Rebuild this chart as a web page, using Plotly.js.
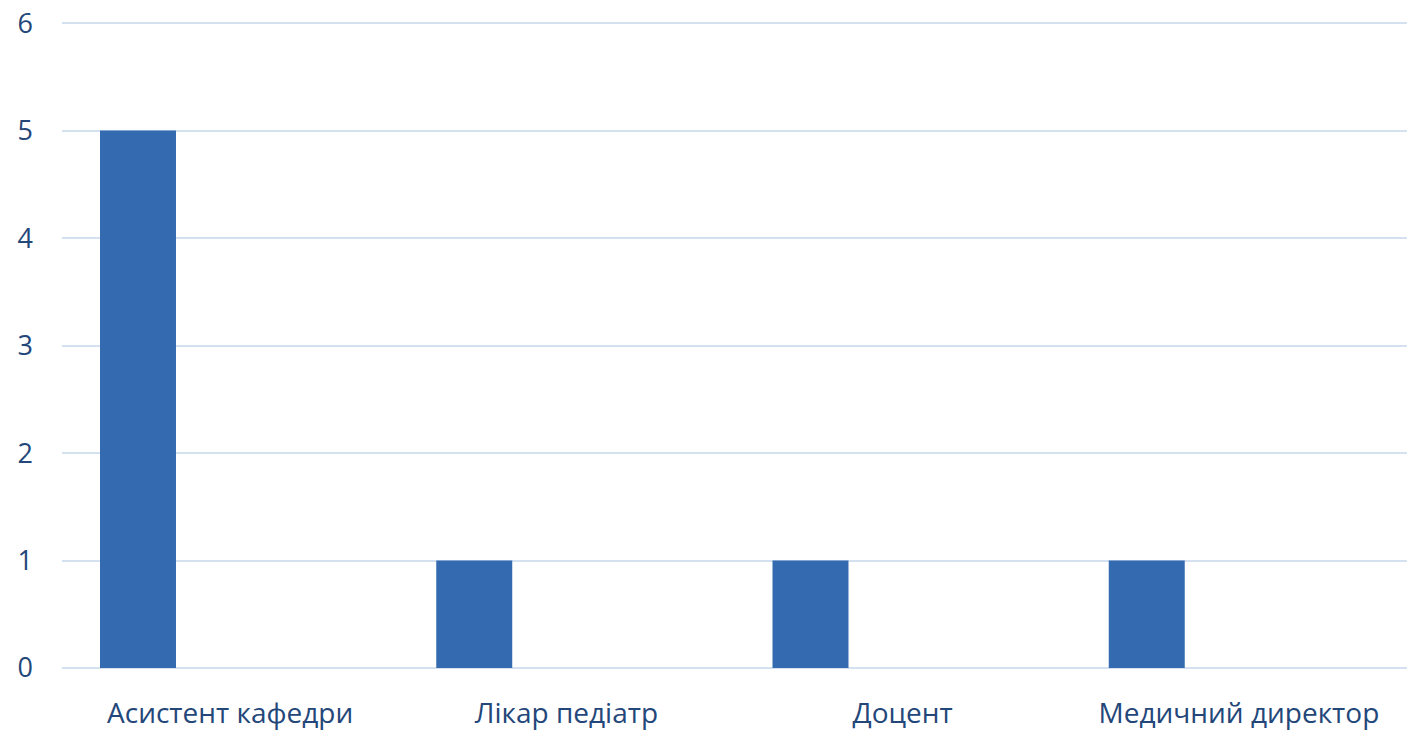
<!DOCTYPE html>
<html>
<head>
<meta charset="utf-8">
<script src="https://cdn.plot.ly/plotly-3.0.1.min.js"></script>
<style>html,body{margin:0;padding:0;background:#fff;}#chart{width:1407px;height:730px;}</style>
</head>
<body>
<div id="chart"></div>
<script>
const categories = ["Асистент кафедри", "Лікар педіатр", "Доцент", "Медичний директор"];
const values = [5, 1, 1, 1];
const yTicks = [0, 1, 2, 3, 4, 5, 6];

const textColor = "#24477a";
const gridColor = "#d3e1f0";

const trace = {
  type: "bar",
  x: categories,
  y: values,
  width: 0.226,
  offset: -0.387,
  marker: {color: "#346bb0", line: {width: 0}},
  hoverinfo: "x+y"
};

const layout = {
  width: 1407,
  height: 730,
  margin: {l: 62, r: 0, t: 21, b: 62},
  paper_bgcolor: "#ffffff",
  plot_bgcolor: "#ffffff",
  showlegend: false,
  font: {family: "Open Sans, sans-serif", size: 28, color: textColor},
  xaxis: {
    type: "category",
    showgrid: false,
    showline: false,
    zeroline: false,
    ticks: "",
    ticklabelstandoff: 26,
    tickfont: {family: "Open Sans, sans-serif", size: 28, color: textColor}
  },
  yaxis: {
    range: [0, 6.02],
    tickvals: yTicks,
    showgrid: true,
    gridcolor: gridColor,
    gridwidth: 2,
    zeroline: true,
    zerolinecolor: gridColor,
    zerolinewidth: 2,
    showline: false,
    ticks: "",
    ticklabelstandoff: 28,
    tickfont: {family: "Open Sans, sans-serif", size: 27, color: textColor}
  }
};

Plotly.newPlot("chart", [trace], layout, {displayModeBar: false, staticPlot: true});
</script>
</body>
</html>
